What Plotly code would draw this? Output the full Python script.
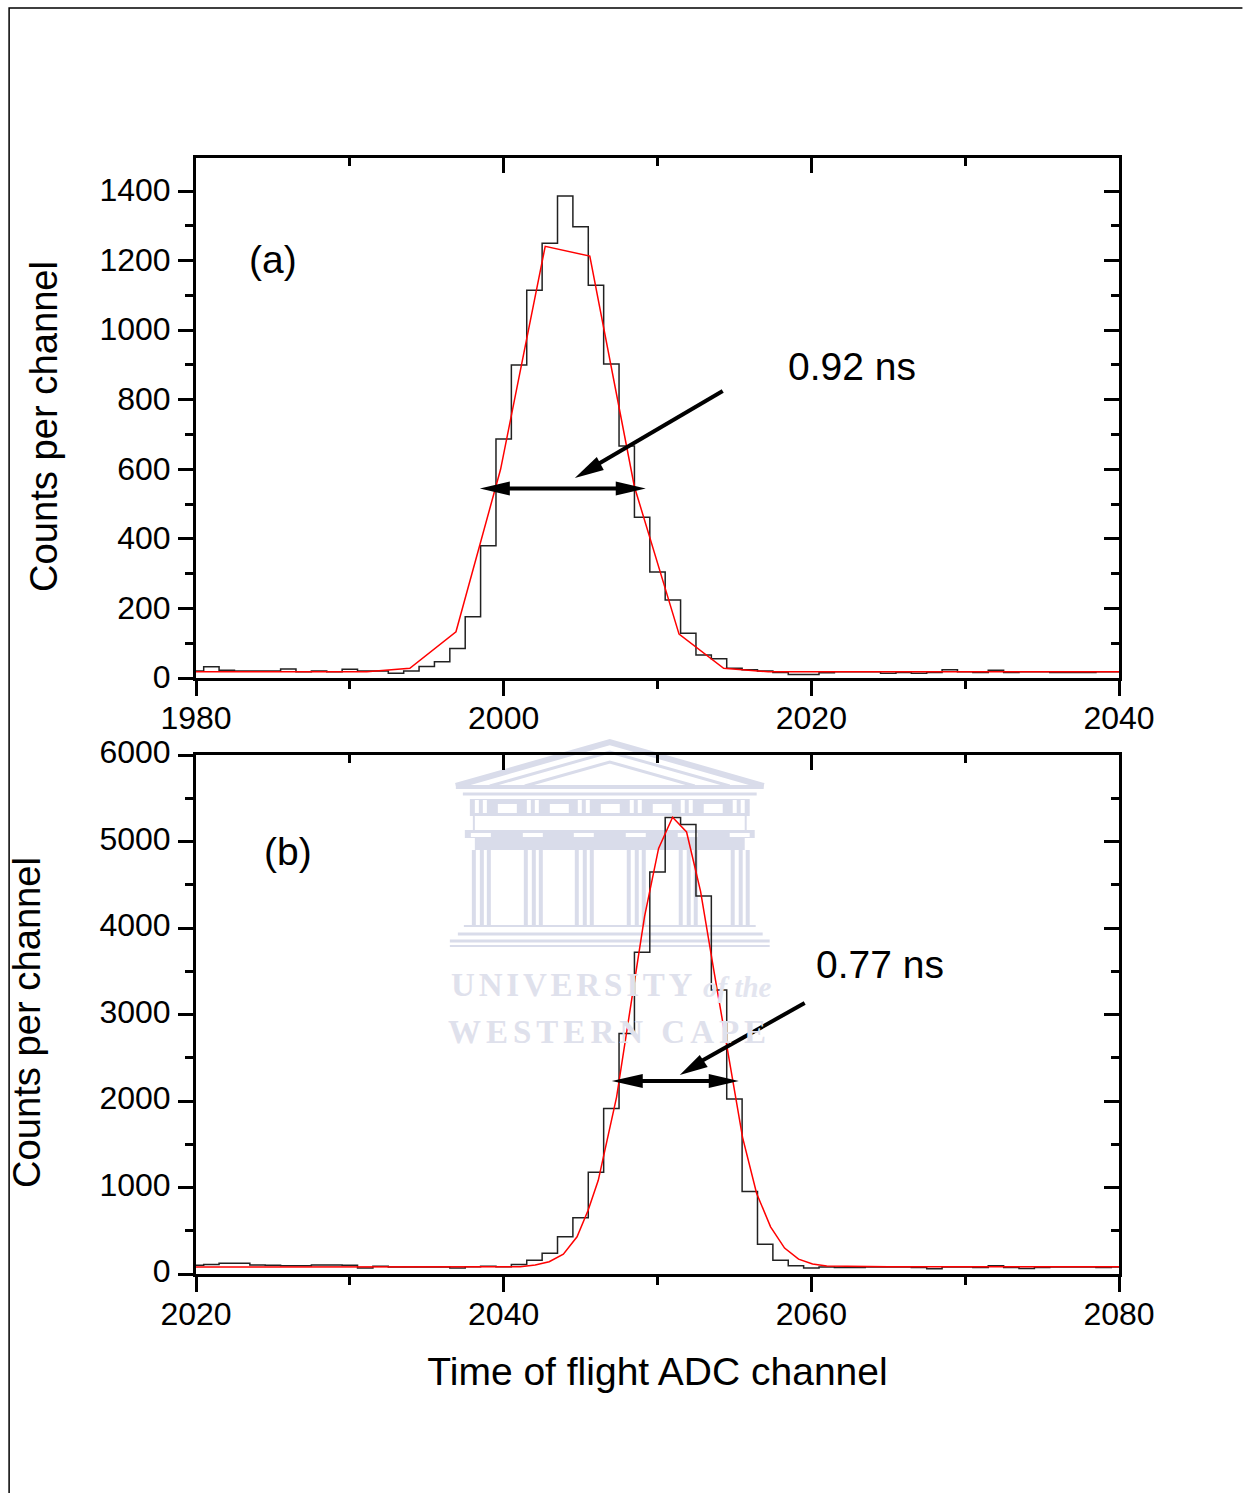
import plotly.graph_objects as go

# ---------- data ----------
channels_a = list(range(1980, 2041))
counts_a = [20, 32, 22, 20, 20, 20, 26, 18, 20, 18, 25, 20, 20, 14, 20, 33, 47, 85, 176, 380,
            687, 900, 1115, 1250, 1386, 1297, 1129, 903, 667, 462, 305, 224, 129, 66, 55, 28,
            24, 20, 16, 10, 10, 15, 18, 18, 18, 14, 16, 14, 16, 24, 18, 16, 22, 16, 18, 18,
            16, 16, 16, 18, 18]
fit_x_a = [1980, 1982.9, 1985.8, 1988.7, 1991.1, 1993.9, 1996.9, 1999.8, 2002.7, 2005.6, 2008.5,
           2011.4, 2014.3, 2017.2, 2020.1, 2023, 2026, 2029, 2032, 2035, 2038, 2040]
fit_y_a = [18, 18, 18, 18, 18, 28, 133, 600, 1241, 1213, 550, 126, 28, 18, 18, 18, 18, 18, 18, 18, 18, 18]

channels_b = list(range(2020, 2081))
counts_b = [100, 110, 125, 125, 105, 100, 95, 95, 105, 105, 100, 70, 90, 80, 80, 80, 80, 70, 85, 90,
            85, 110, 160, 240, 430, 650, 1175, 1912, 2780, 3721, 4646, 5277, 5196, 4370, 3283,
            2024, 955, 345, 160, 95, 70, 80, 75, 75, 80, 80, 80, 75, 60, 80, 80, 75, 95, 75, 65,
            75, 80, 80, 80, 75, 80]
fit_x_b = [2020, 2030, 2038, 2041.08, 2042.05, 2042.96, 2043.88, 2044.77, 2045.49, 2046.15, 2047.34,
           2048.25, 2049.16, 2050.07, 2050.98, 2051.89, 2052.8, 2053.7, 2054.62, 2055.53, 2056.44,
           2057.35, 2058.26, 2059.17, 2060.08, 2061, 2065, 2070, 2080]
fit_y_b = [80, 80, 80, 84, 104, 142, 230, 430, 737, 1083, 2045, 3070, 4135, 4920, 5280, 5110,
           4424, 3470, 2523, 1580, 933, 545, 300, 172, 115, 92, 85, 85, 85]

xticks_a = [1980, 2000, 2020, 2040]
xticks_b = [2020, 2040, 2060, 2080]
yticks_a = [0, 200, 400, 600, 800, 1000, 1200, 1400]
yticks_b = [0, 1000, 2000, 3000, 4000, 5000, 6000]

Y_TITLE = "Counts per channel"
X_TITLE = "Time of flight ADC channel"

# ---------- geometry helpers ----------
W, H = 1243, 1493
L, R, T, B = 196, 1119.5, 158, 1274
FONT = "Liberation Sans"


def px(x):
    return (x - L) / (R - L)


def py(y):
    return (B - y) / (B - T)


def poly(points, close=True):
    s = "M " + " L ".join(f"{px(x):.5f},{py(y):.5f}" for x, y in points)
    return s + (" Z" if close else "")


tf = dict(family=FONT, size=32, color="black")
common = dict(showgrid=False, zeroline=False, showline=True, linecolor="black", linewidth=3,
              tickcolor="black", tickwidth=3, ticklen=15, tickfont=tf)


def minor(d, where):
    return dict(dtick=d, ticks=where, ticklen=8, tickwidth=3, tickcolor="black")


fig = go.Figure()
fig.add_trace(go.Scatter(x=channels_a, y=counts_a, mode="lines", line=dict(shape="hvh", color="#222222", width=1.5),
                         xaxis="x", yaxis="y", showlegend=False))
fig.add_trace(go.Scatter(x=fit_x_a, y=fit_y_a, mode="lines", line=dict(color="#ff0000", width=1.5),
                         xaxis="x", yaxis="y", showlegend=False))
fig.add_trace(go.Scatter(x=channels_b, y=counts_b, mode="lines", line=dict(shape="hvh", color="#222222", width=1.5),
                         xaxis="x2", yaxis="y2", showlegend=False))
fig.add_trace(go.Scatter(x=fit_x_b, y=fit_y_b, mode="lines", line=dict(color="#ff0000", width=1.5),
                         xaxis="x2", yaxis="y2", showlegend=False))
# invisible carriers so that the mirror axes (top / right, ticks pointing inwards) are drawn
fig.add_trace(go.Scatter(x=channels_a[:1], y=counts_a[:1], mode="lines", opacity=0, hoverinfo="skip",
                         xaxis="x3", yaxis="y3", showlegend=False))
fig.add_trace(go.Scatter(x=channels_b[:1], y=counts_b[:1], mode="lines", opacity=0, hoverinfo="skip",
                         xaxis="x4", yaxis="y4", showlegend=False))

dom_a = [py(678), 1]
dom_b = [0, py(755)]
xr_a, xr_b = [1980, 2040], [2020, 2080]
yr_a, yr_b = [0, 1495], [0, 6000]

title_font = dict(family=FONT, size=39, color="black")
fig.update_layout(
    width=W, height=H, margin=dict(l=L, r=W - R, t=T, b=H - B),
    paper_bgcolor="white", plot_bgcolor="rgba(0,0,0,0)", showlegend=False,
    font=dict(family=FONT, color="black"),
    xaxis=dict(common, domain=[0, 1], range=xr_a, anchor="y", side="bottom", ticks="outside",
               tickvals=xticks_a, minor=minor(10, "outside"), ticklabelstandoff=-5),
    yaxis=dict(common, domain=dom_a, range=yr_a, anchor="x", side="left", ticks="outside",
               tickvals=yticks_a, minor=minor(100, "outside"), ticklabelstandoff=1, ticklabelshift=-1),
    xaxis2=dict(common, domain=[0, 1], range=xr_b, anchor="y2", side="bottom", ticks="outside",
                tickvals=xticks_b, minor=minor(10, "outside"), ticklabelstandoff=-5,
                title=dict(text=X_TITLE, font=title_font, standoff=27)),
    yaxis2=dict(common, domain=dom_b, range=yr_b, anchor="x2", side="left", ticks="outside",
                tickvals=yticks_b, minor=minor(500, "outside"), ticklabelstandoff=1, ticklabelshift=-3),
    xaxis3=dict(common, domain=[0, 1], range=xr_a, anchor="y3", overlaying="x", side="top", ticks="inside",
                tickvals=xticks_a, minor=minor(10, "inside"), showticklabels=False),
    yaxis3=dict(common, domain=dom_a, range=yr_a, anchor="x3", overlaying="y", side="right", ticks="inside",
                tickvals=yticks_a, minor=minor(100, "inside"), showticklabels=False),
    xaxis4=dict(common, domain=[0, 1], range=xr_b, anchor="y4", overlaying="x2", side="top", ticks="inside",
                tickvals=xticks_b, minor=minor(10, "inside"), showticklabels=False),
    yaxis4=dict(common, domain=dom_b, range=yr_b, anchor="x4", overlaying="y2", side="right", ticks="inside",
                tickvals=yticks_b, minor=minor(500, "inside"), showticklabels=False),
)

shapes = []
# page border
shapes.append(dict(type="path", path=poly([(9, 1493), (9, 8), (1243, 8)], close=False), xref="paper", yref="paper",
                   line=dict(color="black", width=1.5)))

# watermark crest
WM = "#d9dcea"


def wm_fill(points, color=WM):
    shapes.append(dict(type="path", path=poly(points), xref="paper", yref="paper", layer="below",
                       fillcolor=color, line=dict(width=0)))


def wm_line(points, w=3):
    shapes.append(dict(type="path", path=poly(points, close=False), xref="paper", yref="paper", layer="below",
                       line=dict(color=WM, width=w)))


wm_line([(456, 786), (610, 742), (764, 786)], 6)
wm_line([(490, 786), (610, 752), (730, 786)], 3)
wm_line([(525, 786), (610, 762), (695, 786)], 3)
wm_line([(456, 787), (764, 787)], 4)
wm_line([(463, 794), (757, 794)], 3)
wm_fill([(470, 799), (750, 799), (750, 816), (470, 816)])
for wx in [498, 550, 601, 653, 704]:
    wm_fill([(wx, 804), (wx + 19, 804), (wx + 19, 813), (wx, 813)], "white")
for wx in [475, 527, 578, 630, 681, 733]:
    for off in (0, 8):
        wm_fill([(wx + off, 800), (wx + off + 4, 800), (wx + off + 4, 813), (wx + off, 813)], "white")
wm_line([(474, 816), (474, 830)], 2)
wm_line([(746, 816), (746, 830)], 2)
wm_fill([(465, 830), (755, 830), (755, 838), (745, 838), (745, 850), (475, 850), (475, 838), (465, 838)])
for wx in [471, 523, 574, 626, 678, 730]:
    wm_fill([(wx, 833), (wx + 20, 833), (wx + 20, 837), (wx, 837)], "white")
    for off in (1, 9, 16):
        wm_fill([(wx + off, 850), (wx + off + 4, 850), (wx + off + 4, 925), (wx + off, 925)])
wm_line([(464, 926), (756, 926)], 2)
wm_line([(458, 934), (763, 934)], 3)
wm_line([(450, 941), (770, 941)], 3)
wm_line([(450, 946), (770, 946)], 2)


def arrow(x0, y0, x1, y1):
    shapes.append(dict(type="line", x0=px(x0), y0=py(y0), x1=px(x1), y1=py(y1), xref="paper", yref="paper",
                       line=dict(color="black", width=4)))


def head(points):
    shapes.append(dict(type="path", path=poly(points), xref="paper", yref="paper", fillcolor="black",
                       line=dict(width=0)))


# panel (a) arrows
arrow(505, 488.5, 620, 488.5)
head([(480, 488.5), (510, 481.5), (510, 495.5)])
head([(646, 488.5), (616, 481.5), (616, 495.5)])
arrow(723, 391, 595, 466)
head([(575, 478), (597, 457), (604, 470)])
# panel (b) arrows
arrow(638, 1081, 714, 1081)
head([(612, 1081), (643, 1074), (643, 1088)])
head([(739, 1081), (709, 1074), (709, 1088)])
arrow(805, 1003, 700, 1062)
head([(680, 1075), (700, 1055), (708, 1067)])
fig.update_layout(shapes=shapes)


def note(x, y, text, size=39, anchor="left", angle=0, **kw):
    fig.add_annotation(xref="paper", yref="paper", x=px(x), y=py(y), text=text, showarrow=False,
                       xanchor=anchor, yanchor="middle", borderpad=0, textangle=angle,
                       font=dict(family=kw.pop("family", FONT), size=size, color=kw.pop("color", "black"),
                                 **kw))


note(248, 259, "(a)")
note(263, 851, "(b)")
note(787, 366, "0.92 ns")
note(815, 964, "0.77 ns")
note(44, 427, Y_TITLE, size=38.2, anchor="center", angle=-90)
note(26, 1023, Y_TITLE, size=38.2, anchor="center", angle=-90)
note(573.5, 985, "UNIVERSITY", size=33, anchor="center", family="Liberation Serif", color="#dfe1ec", weight="bold")
note(702, 987, "of the", size=29, family="Liberation Serif", color="#e3e5ef", style="italic", weight="bold")
note(610, 1032, "WESTERN CAPE", size=33, anchor="center", family="Liberation Serif", color="#dfe1ec", weight="bold")

post = """
document.body.style.margin = '0';
document.querySelectorAll('.annotation-text').forEach(function (t) {
  var s = t.textContent;
  if (s === 'UNIVERSITY') t.style.letterSpacing = '3.8px';
  if (s === 'WESTERN CAPE') t.style.letterSpacing = '5px';
});
"""
fig.write_html("out.html", post_script=post, config=dict(displayModeBar=False))
